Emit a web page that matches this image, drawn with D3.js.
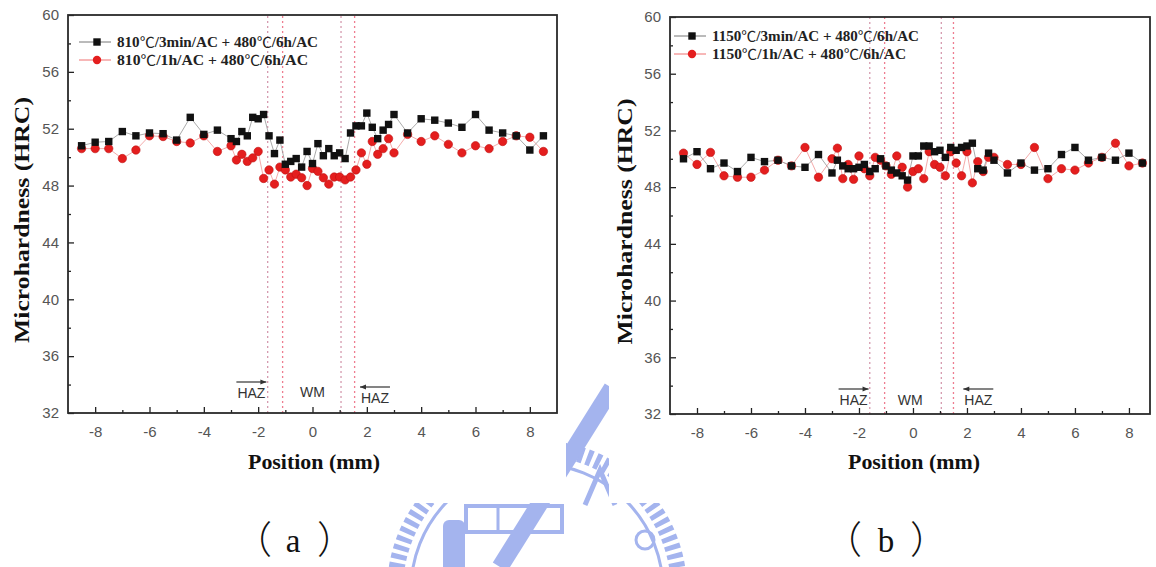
<!DOCTYPE html>
<html><head><meta charset="utf-8">
<script src="https://cdn.jsdelivr.net/npm/d3@7"></script>
<style>body{margin:0;background:#fff} svg{display:block}</style>
</head><body><svg id="c" width="1156" height="567"></svg>
<script>
// ---------------- data ----------------
const positions = [-8.5,-8,-7.5,-7,-6.5,-6,-5.5,-5,-4.5,-4,-3.5,-3,
  -2.8,-2.6,-2.4,-2.2,-2,-1.8,-1.6,-1.4,-1.2,-1,-0.8,-0.6,-0.4,-0.2,0,0.2,0.4,0.6,0.8,1,1.2,1.4,1.6,1.8,2,2.2,2.4,2.6,2.8,3,
  3.5,4,4.5,5,5.5,6,6.5,7,7.5,8,8.5];

const blackA = [50.8,51.05,51.1,51.8,51.5,51.7,51.65,51.2,52.8,51.6,51.9,51.3,
  51.1,51.8,51.5,52.8,52.7,53.0,51.5,50.25,51.2,49.5,49.7,49.9,49.3,50.4,49.55,50.95,50.1,50.6,50.1,50.3,49.9,51.7,52.2,52.2,53.1,52.1,51.3,51.9,52.3,53.0,
  51.7,52.7,52.6,52.4,52.1,53.0,51.9,51.7,51.5,50.5,51.5];
const redA = [50.6,50.6,50.6,49.9,50.5,51.5,51.45,51.1,51.0,51.5,50.4,50.8,
  49.8,50.2,49.7,49.95,50.4,48.5,49.1,48.1,49.3,49.1,48.6,48.8,48.55,48.0,49.2,49.0,48.55,48.1,48.6,48.6,48.4,48.6,49.1,50.3,49.5,51.1,50.2,50.6,51.3,50.3,
  51.6,51.1,51.5,50.9,50.3,50.8,50.6,51.1,51.5,51.4,50.4];
const blackB = [50.0,50.5,49.3,49.7,49.1,50.1,49.8,49.9,49.5,49.4,50.3,49.0,
  49.9,49.5,49.3,49.3,49.4,49.6,49.1,49.3,50.0,49.5,49.2,49.0,48.8,48.5,50.2,50.2,50.9,50.9,50.5,50.6,50.1,50.8,50.6,50.8,50.9,51.1,49.3,49.2,50.4,49.9,
  49.0,49.7,49.2,49.3,50.3,50.8,49.9,50.1,49.9,50.4,49.7];
const redB = [50.4,49.6,50.45,48.8,48.7,48.7,49.2,49.9,49.5,50.8,48.7,50.0,
  50.75,48.6,49.6,48.55,50.2,49.3,48.8,50.1,49.9,49.5,48.9,50.2,49.4,48.0,49.1,49.3,48.6,50.5,49.6,49.4,48.8,50.5,49.7,48.8,50.5,48.3,49.8,49.1,50.1,50.1,
  49.6,49.6,50.8,48.6,49.3,49.2,49.7,50.1,51.1,49.5,49.7];

const xMajorTicks = [-8,-6,-4,-2,0,2,4,6,8];
const xMinorTicks = [-7,-5,-3,-1,1,3,5,7];
const yMajorTicks = [32,36,40,44,48,52,56,60];
const yMinorTicks = [34,38,42,46,50,54,58];

const legendA = ["810\u2103/3min/AC + 480\u2103/6h/AC", "810\u2103/1h/AC + 480\u2103/6h/AC"];
const legendB = ["1150\u2103/3min/AC + 480\u2103/6h/AC", "1150\u2103/1h/AC + 480\u2103/6h/AC"];
const zoneLinesA = [-1.65,-1.1,1.05,1.55];
const zoneLinesB = [-1.6,-1.05,1.05,1.5];
const zoneLabels = ["HAZ","WM","HAZ"];
const zoneLabelPosA = [-2.25, 0, 2.3];
const zoneLabelPosB = [-2.2, -0.1, 2.42];
const xTitle = "Position (mm)";
const yTitle = "Microhardness (HRC)";
const captionLetters = ["a", "b"];

// ---------------- drawing ----------------
const svg = d3.select("#c");
svg.append("rect").attr("width",1156).attr("height",567).attr("fill","#fff");

// light-blue page watermark (university emblem), mostly hidden behind the chart images
const wc = "#a4b4ee";
const wm = svg.append("g").attr("fill","none").attr("stroke",wc);
wm.append("circle").attr("cx",537).attr("cy",590).attr("r",142).attr("stroke-width",16).attr("stroke-dasharray","5 4");
wm.append("circle").attr("cx",537).attr("cy",590).attr("r",126).attr("stroke-width",3);
wm.append("path").attr("d","M500 567 L612 388").attr("stroke-width",17);
wm.append("path").attr("d","M585 505 L600 470 L615 505").attr("stroke-width",5);
wm.append("rect").attr("x",466).attr("y",506).attr("width",96).attr("height",26).attr("stroke-width",4);
wm.append("path").attr("d","M498 506 V532 M530 506 V532").attr("stroke-width",3);
wm.append("rect").attr("x",443).attr("y",520).attr("width",22).attr("height",60).attr("rx",6).attr("fill",wc).attr("stroke","none");
wm.append("circle").attr("cx",645).attr("cy",540).attr("r",9).attr("stroke-width",3);
svg.append("rect").attr("x",0).attr("y",0).attr("width",566).attr("height",503).attr("fill","#fff");
svg.append("rect").attr("x",609).attr("y",0).attr("width",547).attr("height",503).attr("fill","#fff");

const panels = [
  {x0:68, x1:557, yTop:15, yBot:413, xMax:9, black:blackA, red:redA, legend:legendA, legLen:[201,191], zones:zoneLinesA, zpos:zoneLabelPosA,
   legX:97, legY:42, zBase:[398,397,403], yTitleX:22, capX:[262,293,327], xTitleC:314},
  {x0:670, x1:1150, yTop:17, yBot:414, xMax:8.78, black:blackB, red:redB, legend:legendB, legLen:[207,194], zones:zoneLinesB, zpos:zoneLabelPosB,
   legX:692, legY:36, zBase:[405,405,405], yTitleX:625, capX:[852,886,920], xTitleC:914}
];

panels.forEach((p, pi) => {
  const x = d3.scaleLinear().domain([-9, p.xMax]).range([p.x0, p.x1]);
  const y = d3.scaleLinear().domain([32, 60]).range([p.yBot, p.yTop]);
  const g = svg.append("g");

  p.zones.forEach((z,i) => {
    g.append("line").attr("x1",x(z)).attr("x2",x(z)).attr("y1",y(32)).attr("y2",y(60))
      .attr("stroke", i%2===0 ? "#d59aae" : "#ee7d90").attr("stroke-width",1.3)
      .attr("stroke-dasharray","2 3");
  });

  const fmt = d => String(d);
  g.append("g").attr("transform",`translate(0,${p.yBot})`)
    .call(d3.axisBottom(x).tickValues(xMajorTicks).tickSizeInner(-6).tickSizeOuter(0).tickPadding(13).tickFormat(fmt));
  g.append("g").attr("transform",`translate(0,${p.yBot})`)
    .call(d3.axisBottom(x).tickValues(xMinorTicks).tickSizeInner(-3).tickSizeOuter(0).tickFormat(""));
  g.append("g").attr("transform",`translate(${p.x0},0)`)
    .call(d3.axisLeft(y).tickValues(yMajorTicks).tickSizeInner(-6).tickSizeOuter(0).tickPadding(9).tickFormat(fmt));
  g.append("g").attr("transform",`translate(${p.x0},0)`)
    .call(d3.axisLeft(y).tickValues(yMinorTicks).tickSizeInner(-3).tickSizeOuter(0).tickFormat(""));
  g.selectAll(".domain").remove();
  g.selectAll(".tick line").attr("stroke","#222").attr("stroke-width",1.3);
  g.selectAll(".tick text").attr("font-family","Liberation Sans, Arial, sans-serif").attr("font-size",15).attr("fill","#555");

  g.append("rect").attr("x",p.x0).attr("y",p.yTop).attr("width",p.x1-p.x0).attr("height",p.yBot-p.yTop)
    .attr("fill","none").attr("stroke","#2a2a2a").attr("stroke-width",1.8);

  const line = d3.line().x((d,i)=>x(positions[i])).y(d=>y(d));
  g.append("path").datum(p.red).attr("d",line).attr("fill","none").attr("stroke","#f3a0a0").attr("stroke-width",0.9);
  g.append("path").datum(p.black).attr("d",line).attr("fill","none").attr("stroke","#a0a0a0").attr("stroke-width",0.9);

  g.selectAll(".rc").data(p.red).join("circle").attr("class","rc")
    .attr("cx",(d,i)=>x(positions[i])).attr("cy",d=>y(d)).attr("r",4.2)
    .attr("fill","#e41e1e").attr("stroke","#c01010").attr("stroke-width",0.6);
  g.selectAll(".bs").data(p.black).join("rect").attr("class","bs")
    .attr("x",(d,i)=>x(positions[i])-3.7).attr("y",d=>y(d)-3.7).attr("width",7.4).attr("height",7.4)
    .attr("fill","#111");

  const leg = g.append("g");
  [0,1].forEach(k => {
    const ly = p.legY + k*18;
    leg.append("line").attr("x1",p.legX-18).attr("x2",p.legX+14).attr("y1",ly).attr("y2",ly)
      .attr("stroke", k===0 ? "#777" : "#ef7070").attr("stroke-width",1);
    if (k===0) leg.append("rect").attr("x",p.legX-3.7).attr("y",ly-3.7).attr("width",7.4).attr("height",7.4).attr("fill","#111");
    else leg.append("circle").attr("cx",p.legX).attr("cy",ly).attr("r",4.2).attr("fill","#e41e1e");
    const t = leg.append("text").attr("x",p.legX+20).attr("y",ly+5)
      .attr("font-family","Liberation Serif, Times New Roman, serif").attr("font-weight","bold")
      .attr("font-size",14).attr("fill","#222")
      .attr("textLength",p.legLen[k]).attr("lengthAdjust","spacingAndGlyphs");
    p.legend[k].split(/(\u2103)/).forEach(part => {
      if (!part) return;
      const ts = t.append("tspan").text(part);
      if (part === "\u2103") ts.attr("font-family","Noto Sans CJK TC").attr("font-weight","normal");
    });
  });

  zoneLabels.forEach((t,k) => {
    const cx = x(p.zpos[k]), by = p.zBase[k];
    g.append("text").attr("x",cx).attr("y",by).attr("text-anchor","middle").text(t)
      .attr("font-family","Liberation Sans, Arial, sans-serif").attr("font-size",14).attr("fill","#333");
    if (t === "HAZ") {
      const ay = by - 16, hw = 15;
      g.append("line").attr("x1",cx-hw).attr("x2",cx+hw).attr("y1",ay).attr("y2",ay).attr("stroke","#333").attr("stroke-width",1.2);
      const dir = k===0 ? 1 : -1, tip = cx + dir*hw;
      g.append("path").attr("d",`M${tip} ${ay} L${tip-dir*6} ${ay-2.5} L${tip-dir*6} ${ay+2.5} Z`).attr("fill","#333");
    }
  });

  g.append("text").attr("x",p.xTitleC).attr("y",469).attr("text-anchor","middle").text(xTitle)
    .attr("font-family","Liberation Serif, Times New Roman, serif").attr("font-weight","bold").attr("font-size",21).attr("fill","#111")
    .attr("textLength",132).attr("lengthAdjust","spacingAndGlyphs");
  g.append("text").attr("transform",`translate(${p.yTitleX+7},${(p.yTop+p.yBot)/2 + 6}) rotate(-90)`)
    .attr("text-anchor","middle").text(yTitle)
    .attr("font-family","Liberation Serif, Times New Roman, serif").attr("font-weight","bold").attr("font-size",22).attr("fill","#111")
    .attr("textLength",246).attr("lengthAdjust","spacingAndGlyphs");

  // caption: full-width parentheses around the panel letter
  const cap = svg.append("g").attr("fill","#111").attr("text-anchor","middle");
  cap.append("text").attr("x",p.capX[0]-9).attr("y",553).attr("font-size",38)
    .attr("font-family","Noto Sans CJK TC").attr("font-weight","300").text("\uFF08");
  cap.append("text").attr("x",p.capX[1]).attr("y",552).attr("font-size",33)
    .attr("font-family","Liberation Serif, serif").text(captionLetters[pi]);
  cap.append("text").attr("x",p.capX[2]+9).attr("y",553).attr("font-size",38)
    .attr("font-family","Noto Sans CJK TC").attr("font-weight","300").text("\uFF09");
});
</script></body></html>
